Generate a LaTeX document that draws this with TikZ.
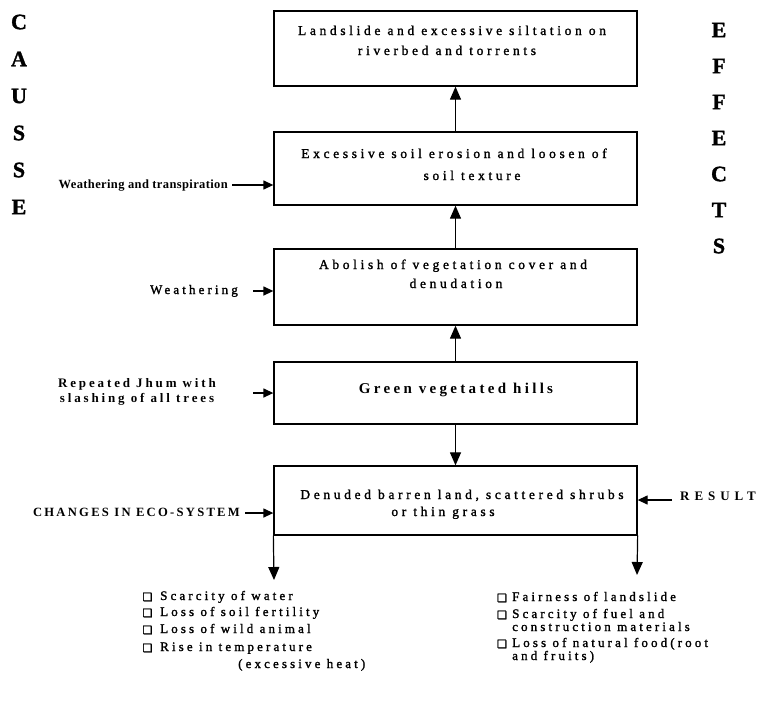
\documentclass[tikz,border=0pt]{standalone}
\usepackage{fontspec}
\setmainfont{Liberation Serif}
\usetikzlibrary{arrows.meta}
\newfontfamily\wideA[LetterSpace=27,FakeBold=1.5]{Liberation Serif}
\newfontfamily\wideL[LetterSpace=24,FakeBold=1.5]{Liberation Serif}
\newfontfamily\wideB[LetterSpace=22]{Liberation Serif}
\newfontfamily\wideC[LetterSpace=18]{Liberation Serif}
\newfontfamily\wideD[LetterSpace=38]{Liberation Serif}
\newfontfamily\narrowF[LetterSpace=3]{Liberation Serif}
\newfontfamily\bigfont[FakeBold=1.5]{Liberation Serif Bold}
\newfontfamily\symfont[FakeBold=1.5]{DejaVu Sans}
\begin{document}
\begin{tikzpicture}[x=1pt,y=-1pt,
  box/.style={draw, line width=1.3pt, inner sep=0pt, minimum width=363pt},
  bt/.style={inner sep=0pt, font=\wideA\fontsize{13.5}{16}\selectfont, text height=9pt, text depth=3pt},
  lt/.style={inner sep=0pt, anchor=west, font=\wideL\fontsize{13}{15}\selectfont, text height=9pt, text depth=3pt},
  bul/.style={inner sep=0pt, font=\symfont\fontsize{11}{12}\selectfont},
  big/.style={inner sep=0pt, font=\bigfont\fontsize{22}{24}\selectfont},
  varr/.style={line width=1.2pt, -{Triangle[length=13pt,width=11pt]}},
  sarr/.style={line width=1.3pt, -{Triangle[length=10pt,width=9pt]}}
]
\useasboundingbox (0,0) rectangle (759,707);

% boxes
\node[box, minimum height=75pt] (b1) at (455.5,48.5) {};
\node[box, minimum height=73pt] (b2) at (455.5,168.5) {};
\node[box, minimum height=76pt] (b3) at (455.5,287) {};
\node[box, minimum height=62pt] (b4) at (455.5,393) {};
\node[box, minimum height=69pt] (b5) at (455.5,500.5) {};

% box texts
\node[bt] (b1a) at (452,32) {Landslide and excessive siltation on};
\node[bt] (b1b) at (447,52) {riverbed and torrents};
\node[bt] (b2a) at (454,155) {Excessive soil erosion and loosen of};
\node[bt] (b2b) at (472,177) {soil texture};
\node[bt] (b3a) at (453,266) {Abolish of vegetation cover and};
\node[bt] (b3b) at (456,285) {denudation};
\node[inner sep=0pt, font=\wideB\bfseries\fontsize{15}{17}\selectfont, text height=10pt, text depth=3pt] (b4a) at (456,390) {Green vegetated hills};
\node[bt] (b5a) at (462,496) {Denuded barren land, scattered shrubs};
\node[bt] (b5b) at (443,513) {or thin grass};

% vertical arrows
\draw[varr] (b2.north) -- (b1.south);
\draw[varr] (b3.north) -- (b2.south);
\draw[varr] (b4.north) -- (b3.south);
\draw[varr] (b4.south) -- (b5.north);
\coordinate (la) at (274,580);
\coordinate (ra) at (637,575);
\draw[varr] (b5.south west) -- (la);
\draw[varr] (b5.south east) -- (ra);

% side labels
\node[inner sep=0pt, anchor=east, font=\narrowF\bfseries\fontsize{12.5}{14}\selectfont, text height=9pt, text depth=3pt] (wt) at (228,185) {Weathering and transpiration};
\coordinate (t1) at (232,185);
\draw[sarr] (t1) -- (t1 -| b2.west);

\node[inner sep=0pt, anchor=east, font=\wideL\fontsize{13}{15}\selectfont, text height=9pt, text depth=3pt] (we) at (238,291) {Weathering};
\coordinate (t2) at (253,291);
\draw[sarr] (t2) -- (t2 -| b3.west);

\node[inner sep=0pt, align=center, font=\wideB\bfseries\fontsize{13}{14.5}\selectfont] (rj) at (137,392) {Repeated Jhum with\\slashing of all trees};
\coordinate (t3) at (253,393);
\draw[sarr] (t3) -- (t3 -| b4.west);

\node[inner sep=0pt, anchor=east, font=\wideC\bfseries\fontsize{12.6}{14}\selectfont, text height=9pt, text depth=3pt] (ch) at (240,513) {CHANGES IN ECO-SYSTEM};
\coordinate (t4) at (245,513);
\draw[sarr] (t4) -- (t4 -| b5.west);

\node[inner sep=0pt, anchor=west, font=\wideD\bfseries\fontsize{13}{15}\selectfont, text height=9pt, text depth=3pt] (rs) at (680,497) {RESULT};
\coordinate (t5) at (672,500);
\draw[sarr] (t5) -- (t5 -| b5.east);

% CAUSE
\node[big] (c1) at (19,22) {C};
\node[big] (c2) at (19,59) {A};
\node[big] (c3) at (19,96) {U};
\node[big] (c4) at (19,133) {S};
\node[big] (c5) at (19,170) {S};
\node[big] (c6) at (19,207) {E};
% EFFECTS
\node[big] (e1) at (719,30) {E};
\node[big] (e2) at (719,66) {F};
\node[big] (e3) at (719,102) {F};
\node[big] (e4) at (719,138) {E};
\node[big] (e5) at (719,174) {C};
\node[big] (e6) at (719,210) {T};
\node[big] (e7) at (719,246) {S};

% left list
\node[bul] (lb1) at (147.5,597) {❑};
\node[lt] (l1) at (160,597) {Scarcity of water};
\node[bul] (lb2) at (147.5,613) {❑};
\node[lt] (l2) at (160,613) {Loss of soil fertility};
\node[bul] (lb3) at (147.5,630) {❑};
\node[lt] (l3) at (160,630) {Loss of wild animal};
\node[bul] (lb4) at (147.5,648) {❑};
\node[lt] (l4) at (160,648) {Rise in temperature};
\node[lt] (l5) at (238,665) {(excessive heat)};

% right list
\node[bul] (rb1) at (502,598) {❑};
\node[lt] (r1) at (512,598) {Fairness of landslide};
\node[bul] (rb2) at (502,615) {❑};
\node[lt] (r2) at (512,615) {Scarcity of fuel and};
\node[lt] (r3) at (512,628) {construction materials};
\node[bul] (rb4) at (502,644) {❑};
\node[lt] (r4) at (512,644) {Loss of natural food(root};
\node[lt] (r5) at (512,657) {and fruits)};
\end{tikzpicture}
\end{document}
